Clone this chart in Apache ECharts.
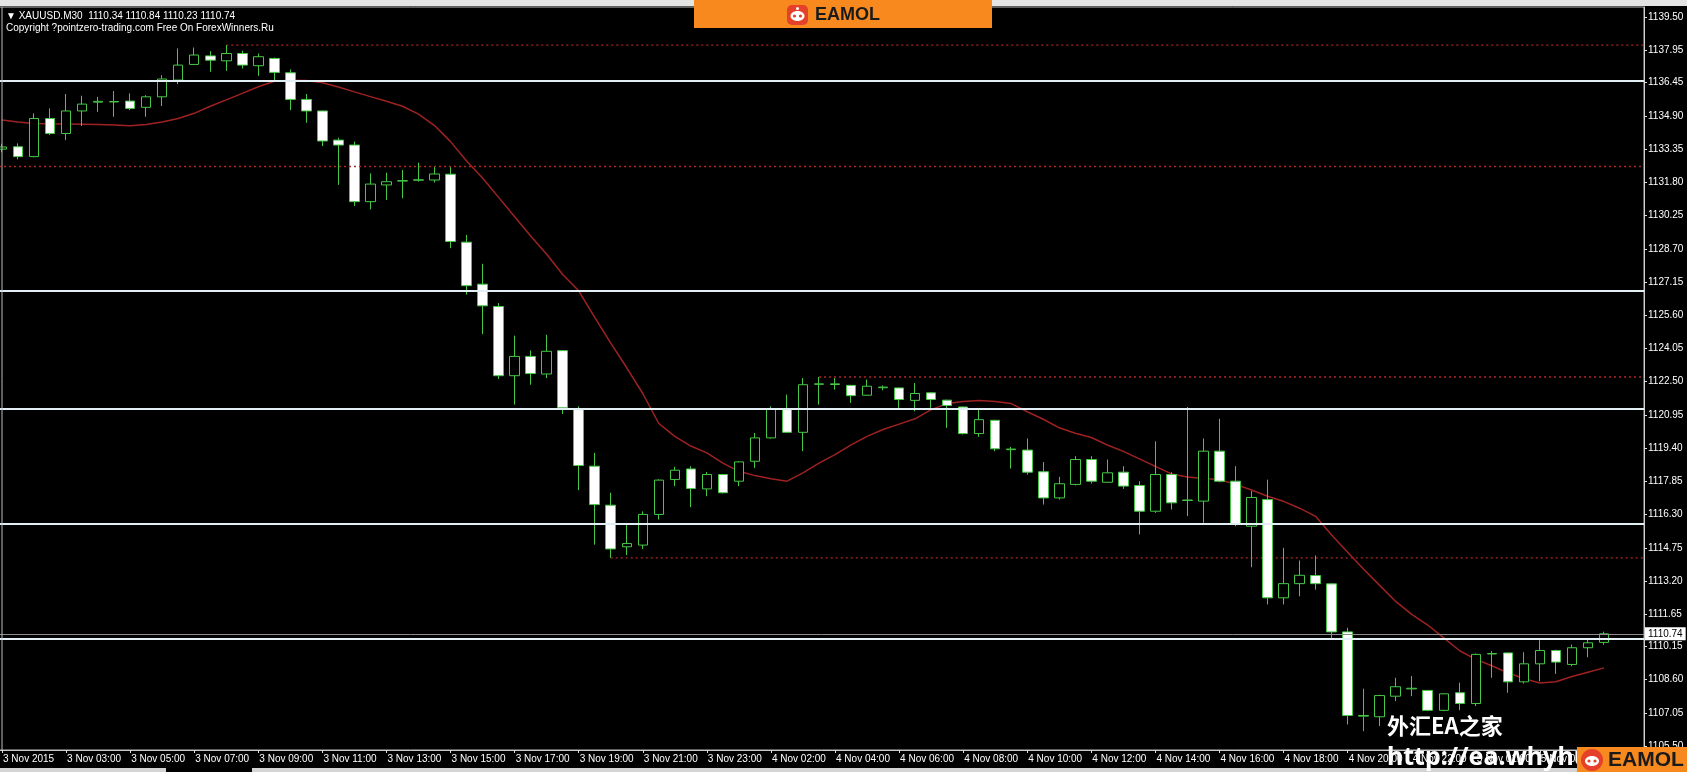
<!DOCTYPE html>
<html><head><meta charset="utf-8">
<script src="https://cdn.jsdelivr.net/npm/echarts@6/dist/echarts.min.js"></script>
<style>html,body{margin:0;padding:0;background:#000;overflow:hidden}#c{width:1687px;height:772px;}</style>
</head><body><div id="c"></div>
<script>
// ---- DATA ----
const opens = [1133.35,1133.46,1133.00,1134.78,1134.08,1135.13,1135.54,1135.55,1135.59,1135.30,
1135.79,1136.57,1137.30,1137.70,1137.47,1137.81,1137.24,1137.58,1136.91,1135.67,
1135.13,1133.77,1133.54,1130.90,1131.68,1131.86,1131.90,1131.91,1132.18,1129.01,
1127.05,1126.01,1122.78,1123.68,1122.86,1123.95,1121.20,1118.56,1116.74,1114.80,
1114.88,1116.31,1117.94,1118.43,1117.50,1118.17,1117.86,1118.79,1119.88,1121.20,
1120.14,1122.38,1122.37,1122.33,1121.87,1122.22,1122.21,1121.63,1121.98,1121.64,
1121.32,1120.08,1120.70,1119.33,1119.31,1118.30,1117.08,1117.71,1118.87,1117.81,
1118.28,1117.66,1116.46,1118.17,1116.96,1116.93,1119.26,1117.86,1115.76,1117.00,
1112.42,1113.08,1113.46,1113.07,1110.83,1106.90,1106.87,1107.83,1108.17,1108.10,
1107.17,1107.99,1107.49,1109.80,1109.85,1108.50,1109.34,1109.96,1109.31,1110.09,
1110.34];
const highs = [1133.60,1133.62,1135.02,1135.25,1135.92,1135.84,1135.79,1136.06,1135.95,1135.87,
1136.80,1138.05,1138.09,1137.92,1138.20,1137.94,1137.81,1137.62,1137.07,1135.92,
1135.15,1133.88,1133.70,1132.22,1132.25,1132.38,1132.72,1132.53,1132.51,1129.35,
1128.00,1126.17,1124.65,1123.96,1124.69,1123.97,1121.35,1119.18,1117.32,1115.90,
1116.45,1117.95,1118.53,1118.56,1118.29,1118.20,1118.79,1120.11,1121.35,1121.90,
1122.67,1122.72,1122.67,1122.35,1122.60,1122.32,1122.23,1122.44,1122.00,1121.66,
1121.34,1121.20,1120.72,1119.46,1119.85,1118.75,1118.06,1119.03,1119.03,1118.87,
1118.56,1117.86,1119.72,1118.28,1121.32,1119.85,1120.77,1118.56,1117.40,1117.93,
1114.75,1114.16,1114.39,1113.10,1111.02,1108.18,1107.90,1108.69,1108.77,1108.12,
1107.97,1108.46,1109.82,1109.93,1109.87,1109.88,1110.44,1110.00,1110.24,1110.47,
1110.84];
const lows = [1133.20,1132.87,1132.97,1134.01,1133.77,1134.43,1135.09,1134.86,1135.17,1134.86,
1135.36,1136.38,1137.28,1136.96,1137.00,1137.11,1136.77,1136.57,1135.17,1134.58,
1133.49,1131.68,1130.70,1130.54,1130.98,1131.06,1131.83,1131.79,1128.73,1126.56,
1124.72,1122.63,1121.43,1122.36,1122.67,1121.00,1117.44,1114.90,1114.28,1114.42,
1114.70,1116.07,1117.63,1116.65,1117.16,1117.29,1117.63,1118.48,1119.85,1120.11,
1119.26,1121.43,1122.13,1121.51,1121.85,1122.10,1121.28,1121.12,1121.28,1120.35,
1120.04,1119.93,1119.26,1118.45,1118.17,1116.77,1117.00,1117.66,1117.75,1117.78,
1117.50,1115.38,1116.38,1116.54,1116.23,1115.92,1117.81,1115.76,1113.85,1112.11,
1112.11,1112.49,1112.80,1110.55,1106.51,1106.20,1106.44,1107.60,1107.83,1107.13,
1107.13,1107.18,1107.37,1108.69,1107.99,1108.42,1108.53,1108.87,1109.23,1109.65,
1110.23];
const closes = [1133.45,1133.00,1134.78,1134.08,1135.13,1135.45,1135.58,1135.57,1135.25,1135.79,
1136.62,1137.27,1137.74,1137.50,1137.81,1137.27,1137.66,1136.93,1135.67,1135.13,
1133.73,1133.54,1130.90,1131.72,1131.83,1131.88,1131.92,1132.19,1129.04,1126.98,
1126.04,1122.78,1123.68,1122.88,1123.92,1121.28,1118.59,1116.77,1114.70,1114.95,
1116.31,1117.91,1118.37,1117.52,1118.17,1117.32,1118.76,1119.88,1121.23,1120.14,
1122.36,1122.40,1122.40,1121.85,1122.29,1122.25,1121.67,1121.95,1121.67,1121.39,
1120.08,1120.73,1119.37,1119.36,1118.28,1117.08,1117.74,1118.87,1117.86,1118.25,
1117.63,1116.46,1118.17,1116.85,1116.98,1119.26,1117.86,1115.84,1117.10,1112.42,
1113.08,1113.47,1113.08,1110.83,1106.93,1106.93,1107.86,1108.27,1108.20,1107.17,
1107.94,1107.49,1109.78,1109.82,1108.50,1109.34,1109.96,1109.42,1110.09,1110.32,
1110.74];
const maValues = [1134.71,1134.62,1134.55,1134.53,1134.52,1134.51,1134.50,1134.47,1134.44,1134.50,
1134.62,1134.78,1135.02,1135.35,1135.65,1135.95,1136.26,1136.52,1136.56,1136.55,
1136.45,1136.25,1136.02,1135.80,1135.58,1135.35,1134.98,1134.45,1133.70,1132.80,
1132.00,1131.10,1130.20,1129.30,1128.45,1127.50,1126.74,1125.50,1124.30,1123.15,
1121.95,1120.55,1119.95,1119.50,1119.18,1118.70,1118.32,1118.12,1117.97,1117.86,
1118.25,1118.70,1119.10,1119.55,1119.95,1120.27,1120.52,1120.77,1121.20,1121.48,
1121.58,1121.62,1121.58,1121.48,1121.10,1120.75,1120.35,1120.10,1119.90,1119.55,
1119.25,1118.90,1118.55,1118.20,1118.05,1117.98,1117.94,1117.71,1117.45,1117.16,
1116.92,1116.60,1116.22,1115.35,1114.55,1113.75,1113.00,1112.25,1111.65,1111.15,
1110.55,1109.95,1109.55,1109.25,1108.92,1108.65,1108.45,1108.50,1108.75,1108.95,
1109.15];
const xTickIndex = [0,4,8,12,16,20,24,28,32,36,40,44,48,52,56,60,64,68,72,76,80,84,88,92,96,100];
const xTickLabels = ['3 Nov 2015','3 Nov 03:00','3 Nov 05:00','3 Nov 07:00','3 Nov 09:00','3 Nov 11:00',
'3 Nov 13:00','3 Nov 15:00','3 Nov 17:00','3 Nov 19:00','3 Nov 21:00','3 Nov 23:00','4 Nov 02:00',
'4 Nov 04:00','4 Nov 06:00','4 Nov 08:00','4 Nov 10:00','4 Nov 12:00','4 Nov 14:00','4 Nov 16:00',
'4 Nov 18:00','4 Nov 20:00','4 Nov 22:00','5 Nov 01:00','5 Nov 03:00','5 Nov 05:00'];
const yTickLabels = ['1139.50','1137.95','1136.45','1134.90','1133.35','1131.80','1130.25','1128.70',
'1127.15','1125.60','1124.05','1122.50','1120.95','1119.40','1117.85','1116.30','1114.75','1113.20',
'1111.65','1110.15','1108.60','1107.05','1105.50'];
const whiteLevels = [1136.54, 1126.75, 1121.26, 1115.88, 1110.51];
const redLevels = [1138.20, 1132.55, 1122.72, 1114.28];
const redStartBar = [14, null, 51, 38];
const bidPrice = 1110.74;
const headerText = '\u25BC XAUUSD.M30  1110.34 1110.84 1110.23 1110.74';
const copyrightText = 'Copyright ?pointzero-trading.com Free On ForexWinners.Ru';

// ---- categories (M30 bars, daily break 00:00-01:00) ----
const cats = [];
(function(){
  let d = 3, m = 60;
  for (let i = 0; i < 103; i++) {
    const hh = String(Math.floor(m/60)).padStart(2,'0'), mm = String(m%60).padStart(2,'0');
    cats.push(d + ' Nov ' + hh + ':' + mm);
    m += 30;
    if (m >= 24*60) { m = 60; d += 1; }
  }
})();

const candleData = opens.map((o,i)=>[o, closes[i], lows[i], highs[i]]);
const yTickValues = yTickLabels.map(parseFloat);
const xEnd = cats.length - 0.5;   // right edge of the category band, on the hidden value axis

const green = '#46c846';
const redStyle = {color:'#b02424', width:1.3, type:[2,3]};
const markData = [];
whiteLevels.forEach(v => markData.push({yAxis: v, lineStyle:{color:'#e2f0f6', width:2, type:'solid'}}));
redLevels.forEach((v,k) => { if (redStartBar[k] == null) markData.push({yAxis: v, lineStyle: redStyle}); });
markData.push({yAxis: bidPrice, lineStyle:{color:'#8c8c8c', width:1, type:'solid'},
  label:{show:true, position:'end', formatter: String(bidPrice), color:'#000', backgroundColor:'#fff',
    fontSize:10, fontFamily:'Liberation Sans', padding:[2,3,1,3], distance:1}});

const redSeries = [];
redLevels.forEach((v,k) => {
  if (redStartBar[k] == null) return;
  redSeries.push({type:'line', xAxisIndex:1, yAxisIndex:0, z:2, symbol:'none', silent:true,
    data:[[redStartBar[k], v],[xEnd, v]], lineStyle: redStyle});
});

const chart = echarts.init(document.getElementById('c'), null, {renderer:'canvas'});
chart.setOption({
  animation:false,
  backgroundColor:'#000',
  grid:{left:-6, right:43, top:7, bottom:22, show:true, borderColor:'#bdbdbd', borderWidth:1, backgroundColor:'#000',
    containLabel:false, outerBoundsMode:'none'},
  xAxis:[{type:'category', data:cats, boundaryGap:true,
    axisLine:{show:true, onZero:false, lineStyle:{color:'#c8c8c8', width:1}},
    axisTick:{show:true, alignWithLabel:true, length:3, interval:(i)=>xTickIndex.includes(i), lineStyle:{color:'#ddd'}},
    axisLabel:{show:true, interval:(i)=>xTickIndex.includes(i), align:'left', color:'#fff', fontSize:10,
      fontFamily:'Liberation Sans', margin:4, padding:[0,0,0,1],
      formatter:(v,i)=>{const k=xTickIndex.indexOf(i); return k>=0?xTickLabels[k]:'';}},
    splitLine:{show:false}},
    {type:'value', min:-0.5, max:xEnd, show:false, axisLine:{onZero:false}}],
  yAxis:{type:'value', position:'right', min:1105.32, max:1139.98, scale:true,
    axisLine:{show:true, onZero:false, lineStyle:{color:'#d0d0d0', width:1}},
    axisTick:{show:true, length:3, customValues:yTickValues, lineStyle:{color:'#ddd'}},
    axisLabel:{show:true, customValues:yTickValues, color:'#fff', fontSize:10, fontFamily:'Liberation Sans', margin:4,
      formatter:(v)=>{const k=yTickValues.indexOf(v); return k>=0?yTickLabels[k]:v.toFixed(2);}},
    splitLine:{show:false}},
  series:[
    {type:'line', data:maValues, z:2, symbol:'none', smooth:false, silent:true,
      lineStyle:{color:'#9e2222', width:1.5},
      markLine:{silent:true, symbol:['none','none'], label:{show:false}, animation:false, data:markData}},
    ...redSeries,
    {type:'candlestick', data:candleData, z:3, barWidth:10, silent:true,
      itemStyle:{color:'#000', color0:'#fff', borderColor:green, borderColor0:green, borderWidth:1}}
  ],
  graphic:[
    {type:'rect', z:100, shape:{x:0,y:0,width:1687,height:6}, style:{fill:'#e4e4e4'}},
    {type:'line', z:100, shape:{x1:2,y1:7,x2:2,y2:750}, style:{stroke:'#bdbdbd', lineWidth:1}},
    {type:'text', z:100, x:6, y:16, style:{text:headerText, fill:'#fff', fontSize:10, fontFamily:'Liberation Sans, DejaVu Sans', verticalAlign:'middle'}},
    {type:'text', z:100, x:6, y:28, style:{text:copyrightText, fill:'#fff', fontSize:10, fontFamily:'Liberation Sans', verticalAlign:'middle'}},
    // top banner
    {type:'rect', z:100, shape:{x:694,y:0,width:298,height:28}, style:{fill:'#f7891f'}},
    {type:'rect', z:101, shape:{x:787,y:5,width:21,height:20,r:5}, style:{fill:'#e4402a'}},
    {type:'ellipse', z:102, shape:{cx:797.5,cy:16,rx:7,ry:5}, style:{fill:'#fff'}},
    {type:'circle', z:103, shape:{cx:794.5,cy:16,r:1.6}, style:{fill:'#e4402a'}},
    {type:'circle', z:103, shape:{cx:800.5,cy:16,r:1.6}, style:{fill:'#e4402a'}},
    {type:'circle', z:102, shape:{cx:797.5,cy:8.5,r:1.5}, style:{fill:'#fff'}},
    {type:'text', z:101, x:815, y:15, style:{text:'EAMOL', fill:'#1a1a1a', fontSize:18, fontWeight:'bold', fontFamily:'Liberation Sans', verticalAlign:'middle'}},
    // bottom strip
    {type:'rect', z:100, shape:{x:0,y:768,width:1687,height:4}, style:{fill:'#d4d4d4'}},
    {type:'rect', z:100, shape:{x:166,y:768,width:86,height:4}, style:{fill:'#000'}},
    // watermark
    {type:'text', z:104, x:1387, y:726, style:{text:'外汇EA之家', fill:'#fff', fontSize:22, fontWeight:'bold', fontFamily:'Noto Sans CJK SC', verticalAlign:'middle'}},
    {type:'text', z:104, x:1387, y:758, style:{text:'http://ea.whyhu', fill:'#fff', fontSize:25, fontWeight:'bold', fontFamily:'Noto Sans', verticalAlign:'middle'}},
    {type:'rect', z:110, shape:{x:1577,y:747,width:110,height:25}, style:{fill:'#f7891f'}},
    {type:'circle', z:111, shape:{cx:1592,cy:760,r:11}, style:{fill:'#e4402a'}},
    {type:'ellipse', z:112, shape:{cx:1592,cy:761,rx:7,ry:5}, style:{fill:'#fff'}},
    {type:'circle', z:113, shape:{cx:1589,cy:761,r:1.6}, style:{fill:'#e4402a'}},
    {type:'circle', z:113, shape:{cx:1595,cy:761,r:1.6}, style:{fill:'#e4402a'}},
    {type:'text', z:111, x:1608, y:760, style:{text:'EAMOL', fill:'#1a1a1a', fontSize:21, fontWeight:'bold', fontFamily:'Liberation Sans', verticalAlign:'middle'}}
  ]
});
</script></body></html>
